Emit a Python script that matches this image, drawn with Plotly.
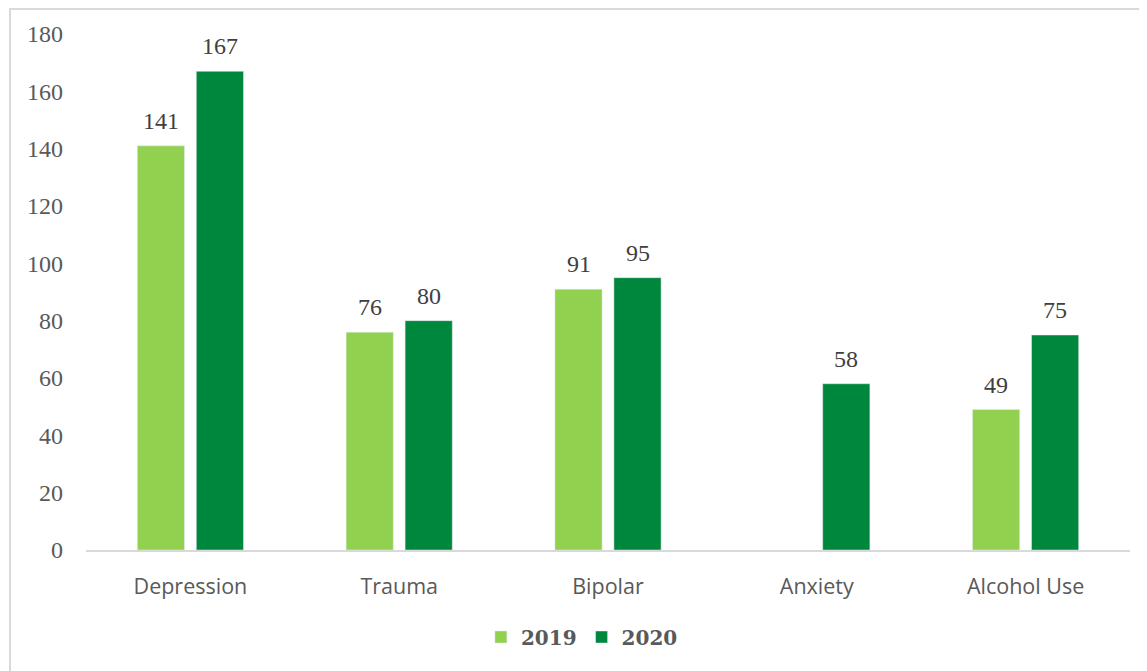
import plotly.graph_objects as go

categories = ["Depression", "Trauma", "Bipolar", "Anxiety", "Alcohol Use"]
values_2019 = [141, 76, 91, None, 49]
values_2020 = [167, 80, 95, 58, 75]
y_ticks = [0, 20, 40, 60, 80, 100, 120, 140, 160, 180]

serif = "Liberation Serif"
sans = "Open Sans"
c2019 = "#92D050"
c2020 = "#00873E"

fig = go.Figure()
fig.add_trace(go.Bar(x=categories, y=values_2019, name="2019", marker=dict(color=c2019)))
fig.add_trace(go.Bar(x=categories, y=values_2020, name="2020", marker=dict(color=c2020)))

# data labels placed above each bar through the data scales
annotations = []
for vals, dx in ((values_2019, -29.5), (values_2020, 29.5)):
    for cat, v in zip(categories, vals):
        if v is None:
            continue
        annotations.append(dict(
            x=cat, y=v, xref="x", yref="y", text=str(v), showarrow=False,
            xshift=dx, yshift=25, yanchor="middle",
            font=dict(family=serif, size=24, color="#404040"),
        ))

fig.update_layout(
    width=1147, height=671,
    margin=dict(l=78, r=25, t=26, b=129),
    paper_bgcolor="white", plot_bgcolor="white",
    barmode="group", bargap=0.435, bargroupgap=0.2,
    showlegend=True,
    legend=dict(orientation="h", x=0.475, xanchor="center", y=-0.1686, yanchor="middle",
                font=dict(family="DejaVu Serif", size=20, color="#595959", weight="bold"),
                itemwidth=30, traceorder="normal"),
    xaxis=dict(showgrid=False, showline=True, linecolor="#D9D9D9", linewidth=1.5,
               ticks="", tickfont=dict(family=sans, size=21.5, color="#595959"),
               ticklabelstandoff=16),
    yaxis=dict(range=[0, 180], tickvals=y_ticks, showgrid=False, zeroline=False,
               showline=False, ticks="",
               tickfont=dict(family=serif, size=24, color="#595959"),
               ticklabelstandoff=22),
    annotations=annotations,
    shapes=[dict(type="rect", xref="paper", yref="paper",
                 x0=(10 - 86) / 1044, x1=1.2, y0=-0.4, y1=(550 - 9) / 516,
                 line=dict(color="#D9D9D9", width=2), fillcolor="rgba(0,0,0,0)",
                 layer="below")],
)

fig.write_html("out.html")
